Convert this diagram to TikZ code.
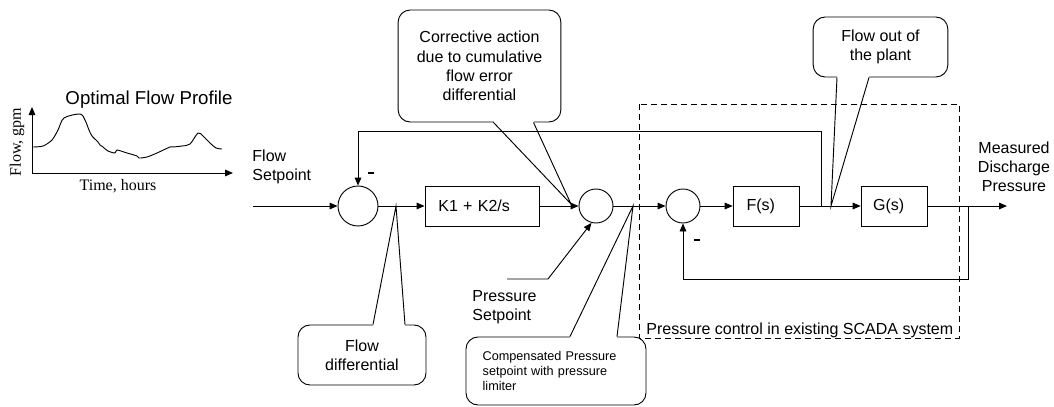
\documentclass[tikz,border=0pt]{standalone}
\usepackage{fontspec}
\setmainfont{Liberation Sans}
\newfontfamily\timesfont{Liberation Serif}
\usetikzlibrary{arrows.meta,calc}

\begin{document}
\begin{tikzpicture}[x=0.75pt,y=-0.75pt,line width=0.7pt,
  >={Triangle[length=6pt,width=5pt]},
  font=\fontsize{12}{14.4}\selectfont,
  blk/.style={draw,minimum width=#1,minimum height=30pt,inner sep=0pt,text width=#1,align=left},
  sumj/.style={draw,circle,minimum size=#1,inner sep=0pt},
  note/.style={draw,fill=white,rounded corners=9pt,align=center,inner sep=0pt},
  lbl/.style={align=left,inner sep=0pt},
  gap/.style={white,line width=1.5pt}]
\useasboundingbox (0,0) rectangle (1054,407);

% flow profile
\draw[<->] (32,107) -- (32,173) -- (233,173);
\draw plot[smooth,tension=0.5] coordinates {(33,147) (43,146) (52,140) (58,130) (64,118) (80,114) (85,120) (89,130) (92,136) (98,142) (100,145) (103,147) (108,151) (115,153) (117,150) (127,153) (137,156) (139,158) (147,157) (157,153) (170,147) (173,147) (182,146) (190,144) (198,133) (203,136) (210,143) (216,148) (222,149)};
\node[font=\fontsize{14}{16}\selectfont] (opt) at (149,100) {Optimal Flow Profile};
\node[rotate=90,font=\timesfont\fontsize{12}{13}\selectfont] (ylab) at (17,142) {Flow, gpm};
\node[font=\timesfont\fontsize{12}{13}\selectfont] (xlab) at (118,186) {Time, hours};

% SCADA region
\draw[dash pattern=on 4.5pt off 3pt] (639,104) rectangle (959,338);
\node[anchor=base west,inner sep=0pt] (scada) at (646,334) {Pressure control in existing SCADA system};

% blocks
\node[sumj=30pt] (s1) at (358,206) {};
\node[blk=85.5pt] (k) at (482,206) {\hspace*{10pt}K1 + K2/s};
\node[sumj=25.5pt] (s2) at (596,206) {};
\node[sumj=25.5pt] (s3) at (683,206) {};
\node[blk=50pt] (f) at (766.5,206) {\hspace*{10pt}F(s)};
\node[blk=50pt] (g) at (894.5,206) {\hspace*{9pt}G(s)};

\coordinate (fin) at (253,206);
\coordinate (fd) at (396,206);
\coordinate (ca) at (571,204);
\coordinate (cp) at (633,206);
\coordinate (tap1) at (821,206);
\coordinate (fo) at (831,206);
\coordinate (tap2) at (968,206);
\coordinate (mout) at (1007,206);
\coordinate (fb1) at (358,131);
\coordinate (fb2) at (683,279);
\coordinate (ps) at (507,279);
\coordinate (psk) at (548,279);

\draw[->] (fin) -- (s1);
\draw[->] (s1) -- (k);
\draw[->] (k) -- (s2);
\draw[->] (s2) -- (s3);
\draw[->] (s3) -- (f);
\draw[->] (f) -- (g);
\draw[->] (g) -- (mout);
\draw[->] (tap1) |- (fb1) -- (s1);
\draw[->] (tap2) |- (fb2) -- (s3);
\draw[->] (ps) -- (psk) -- (s2.-105);

\node[inner sep=0pt] (m1) at (371,173) {\rule{4pt}{1.6pt}};
\node[inner sep=0pt] (m2) at (697,240) {\rule{4pt}{1.6pt}};

\node[lbl,anchor=north west] (fsp) at (252,149) {Flow\\Setpoint};
\node[lbl,anchor=north west] (psp) at (472,290) {Pressure\\Setpoint};
\node[align=center,inner sep=0pt,anchor=north] (mdp) at (1014,141) {Measured\\Discharge\\Pressure};

% callouts
\node[note,minimum width=122pt,minimum height=84pt] (cor) at (479.5,66) {Corrective action\\due to cumulative\\flow error\\differential};
\draw[gap] ($(cor.south)+(14,0)$) -- ($(cor.south)+(54,0)$);
\draw ($(cor.south)+(14,0)$) -- (ca) -- ($(cor.south)+(54,0)$);

\node[note,minimum width=101pt,minimum height=45pt] (flout) at (880.5,47) {Flow out of\\the plant};
\draw[gap] ($(flout.south)+(-43.5,0)$) -- ($(flout.south)+(-11.5,0)$);
\draw ($(flout.south)+(-43.5,0)$) -- (fo) -- ($(flout.south)+(-11.5,0)$);

\node[note,minimum width=96pt,minimum height=45pt] (fdiff) at (362,355) {Flow\\differential};
\draw[gap] ($(fdiff.north)+(11,0)$) -- ($(fdiff.north)+(43,0)$);
\draw ($(fdiff.north)+(11,0)$) -- (fd) -- ($(fdiff.north)+(43,0)$);

\node[note,minimum width=135pt,minimum height=51pt,align=left,text width=110pt,font=\fontsize{9.5}{11.3}\selectfont] (comp) at (556,371) {Compensated Pressure\\setpoint with pressure\\limiter};
\draw[gap] ($(comp.north)+(14,0)$) -- ($(comp.north)+(61,0)$);
\draw ($(comp.north)+(14,0)$) -- (cp) -- ($(comp.north)+(61,0)$);
\end{tikzpicture}
\end{document}
